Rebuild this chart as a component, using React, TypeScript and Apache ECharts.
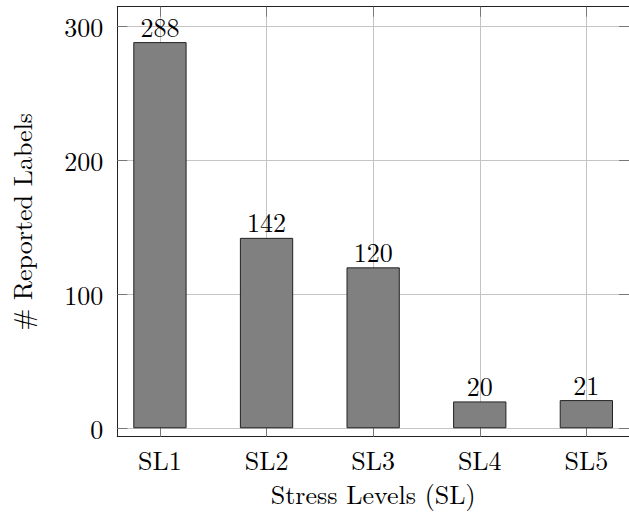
import React, { useEffect, useRef } from "react";
import * as echarts from "echarts";

const categories = ["SL1", "SL2", "SL3", "SL4", "SL5"];
const positions = [1, 2, 3, 4, 5];
const counts = [288, 142, 120, 20, 21];
const yTicks = [0, 100, 200, 300];

const FONT = "'Latin Modern Roman', 'Liberation Serif', 'DejaVu Serif', serif";

export default function App() {
  const ref = useRef<HTMLDivElement>(null);
  useEffect(() => {
    if (!ref.current) return;
    const chart = echarts.init(ref.current, null, { renderer: "svg" });
    const tickStyle = { show: true, inside: true, length: 10, lineStyle: { color: "#777", width: 1 } };
    chart.setOption({
      animation: false,
      backgroundColor: "#fff",
      textStyle: { fontFamily: FONT, color: "#000" },
      grid: { left: 117.3, right: -7, top: 6.7, bottom: 76.3, show: false },
      xAxis: [
        {
          type: "value",
          min: 0.6,
          max: 5.4,
          position: "bottom",
          name: "Stress Levels (SL)",
          nameLocation: "middle",
          nameGap: 44,
          nameTextStyle: { fontFamily: FONT, fontSize: 26, color: "#000" },
          axisLine: { show: true, onZero: false, lineStyle: { color: "#222", width: 1 } },
          axisTick: { ...tickStyle, customValues: positions },
          axisLabel: {
            customValues: positions,
            formatter: (v: number) => categories[Math.round(v) - 1] ?? "",
            fontFamily: FONT,
            fontSize: 26,
            color: "#000",
            margin: 10,
          },
          splitLine: { show: true, lineStyle: { color: "#c4c4c4", width: 1 } },
        },
        {
          type: "value",
          min: 0.6,
          max: 5.4,
          position: "top",
          axisLine: { show: true, onZero: false, lineStyle: { color: "#222", width: 1 } },
          axisTick: { ...tickStyle, customValues: positions },
          axisLabel: { show: false, customValues: positions },
          splitLine: { show: false },
        },
      ],
      yAxis: [
        {
          type: "value",
          min: -6.3,
          max: 314.4,
          position: "left",
          name: "# Reported Labels",
          nameLocation: "middle",
          nameGap: 83,
          nameTextStyle: { fontFamily: FONT, fontSize: 26, color: "#000" },
          axisLine: { show: true, onZero: false, lineStyle: { color: "#222", width: 1 } },
          axisTick: { ...tickStyle, customValues: yTicks },
          axisLabel: {
            customValues: yTicks,
            fontFamily: FONT,
            fontSize: 26,
            color: "#000",
            margin: 14,
          },
          splitLine: { show: true, lineStyle: { color: "#c4c4c4", width: 1 } },
        },
        {
          type: "value",
          min: -6.3,
          max: 314.4,
          position: "right",
          axisLine: { show: true, onZero: false, lineStyle: { color: "#222", width: 1 } },
          axisTick: { ...tickStyle, customValues: yTicks },
          axisLabel: { show: false, customValues: yTicks },
          splitLine: { show: false },
        },
      ],
      series: [
        {
          type: "bar",
          xAxisIndex: 0,
          yAxisIndex: 0,
          data: positions.map((p, i) => [p, counts[i]]),
          barWidth: 53.3,
          itemStyle: { color: "#808080", borderColor: "#222", borderWidth: 1 },
          label: {
            show: true,
            position: "top",
            distance: 3,
            formatter: (p: any) => String(p.value[1]),
            fontFamily: FONT,
            fontSize: 26,
            color: "#000",
          },
        },
      ],
    });
    return () => chart.dispose();
  }, []);
  return <div ref={ref} style={{ width: 629, height: 513, position: "absolute", left: 0, top: 0 }} />;
}
